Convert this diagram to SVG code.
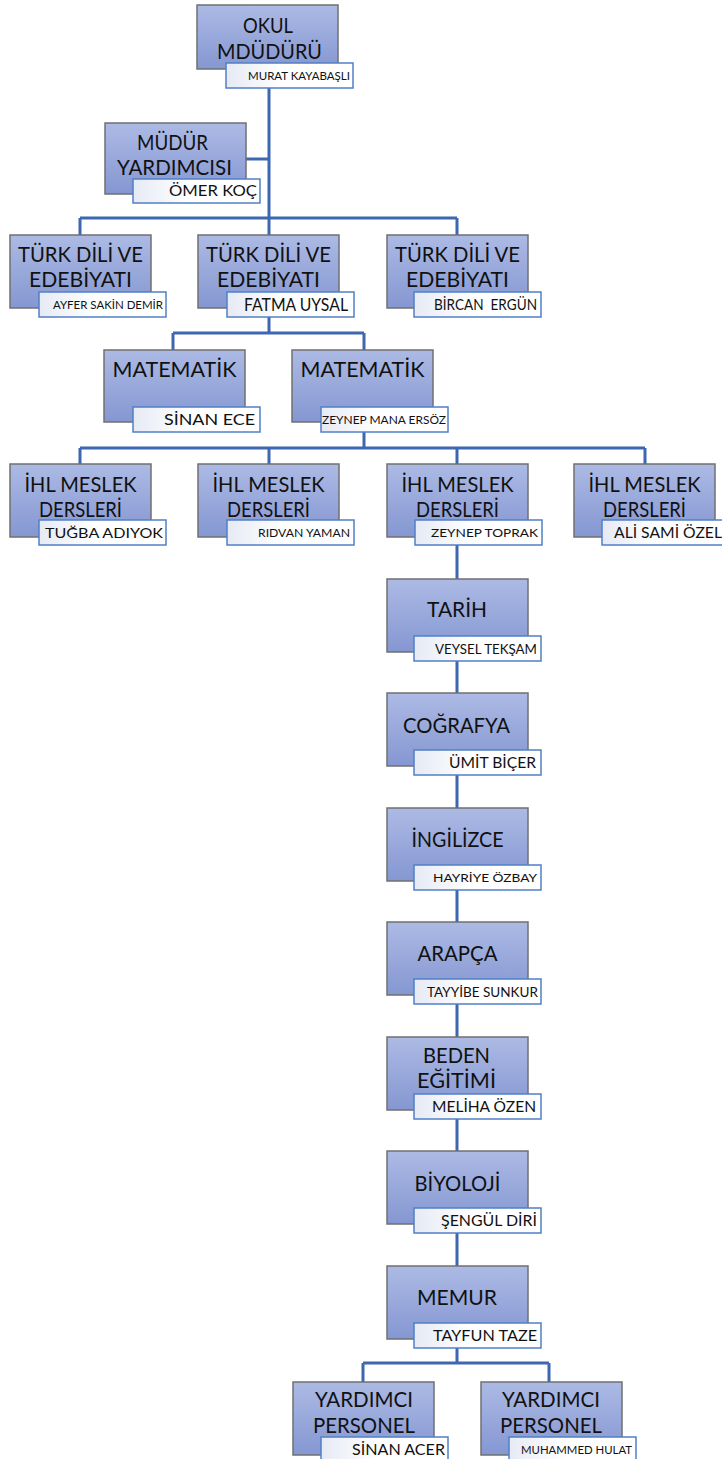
<svg xmlns="http://www.w3.org/2000/svg" width="722" height="1459" viewBox="0 0 722 1459">
<defs>
<linearGradient id="bg" x1="0" y1="0" x2="0" y2="1"><stop offset="0" stop-color="#acbae4"/><stop offset="1" stop-color="#8597d2"/></linearGradient>
<linearGradient id="lg" x1="0" y1="0" x2="1" y2="0"><stop offset="0" stop-color="#e6eaf4"/><stop offset="0.45" stop-color="#ffffff"/></linearGradient>
<style>
.b{fill:url(#bg);stroke:#707070;stroke-width:1.5}
.l{fill:url(#lg);stroke:#5080c6;stroke-width:1.5}
.t{font-family:Lato,'Liberation Sans',sans-serif;font-size:22px;fill:#111;text-anchor:middle}
.n{font-family:Lato,'Liberation Sans',sans-serif;fill:#111;text-anchor:end;white-space:pre}
.c{fill:none;stroke:#3e67b1;stroke-width:3}
</style>
</defs>
<rect width="722" height="1459" fill="#ffffff"/>
<g id="connectors" class="c">
<path d="M269,88 V218 M245,159 H269 M80,218 H457 M80,218 V235 M269,218 V235 M457,218 V235"/>
<path d="M269,317 V333 M173,333 H364 M173,333 V350 M364,333 V350"/>
<path d="M364,432 V448 M80,448 H645 M80,448 V464 M269,448 V464 M457,448 V464 M645,448 V464"/>
<path d="M457,545 V579 M457,661 V693 M457,775 V808 M457,890 V922 M457,1004 V1037 M457,1119 V1151 M457,1233 V1266"/>
<path d="M457,1348 V1363 M363,1363 H549 M363,1363 V1382 M549,1363 V1382"/>
</g>
<g id="okul-muduru">
<rect class="b" x="197" y="5" width="141" height="64"/>
<text class="t" x="268" y="33" textLength="50" lengthAdjust="spacingAndGlyphs">OKUL</text>
<text class="t" x="269.5" y="59" textLength="105" lengthAdjust="spacingAndGlyphs">MDÜDÜRÜ</text>
<rect class="l" x="226" y="63" width="127" height="25"/>
<text class="n" x="350" y="80" font-size="11.5" textLength="102" lengthAdjust="spacingAndGlyphs">MURAT KAYABAŞLI</text>
</g>
<g id="mudur-yardimcisi">
<rect class="b" x="105" y="123" width="141" height="71"/>
<text class="t" x="172.5" y="150" textLength="71" lengthAdjust="spacingAndGlyphs">MÜDÜR</text>
<text class="t" x="174.5" y="175" textLength="115" lengthAdjust="spacingAndGlyphs">YARDIMCISI</text>
<rect class="l" x="133" y="179" width="127" height="24"/>
<text class="n" x="257" y="196" font-size="15" textLength="88" lengthAdjust="spacingAndGlyphs">ÖMER KOÇ</text>
</g>
<g id="tde-1">
<rect class="b" x="10" y="235" width="141" height="73"/>
<text class="t" x="80.5" y="262" textLength="125" lengthAdjust="spacingAndGlyphs">TÜRK DİLİ VE</text>
<text class="t" x="80.5" y="287" textLength="103" lengthAdjust="spacingAndGlyphs">EDEBİYATI</text>
<rect class="l" x="39" y="292" width="127" height="25"/>
<text class="n" x="163" y="309" font-size="12" textLength="110" lengthAdjust="spacingAndGlyphs">AYFER SAKİN DEMİR</text>
</g>
<g id="tde-2">
<rect class="b" x="198" y="235" width="141" height="73"/>
<text class="t" x="268.5" y="262" textLength="125" lengthAdjust="spacingAndGlyphs">TÜRK DİLİ VE</text>
<text class="t" x="268.5" y="287" textLength="103" lengthAdjust="spacingAndGlyphs">EDEBİYATI</text>
<rect class="l" x="227" y="292" width="127" height="25"/>
<text class="n" x="348" y="311" font-size="17" textLength="104" lengthAdjust="spacingAndGlyphs">FATMA UYSAL</text>
</g>
<g id="tde-3">
<rect class="b" x="387" y="235" width="141" height="73"/>
<text class="t" x="457.5" y="262" textLength="125" lengthAdjust="spacingAndGlyphs">TÜRK DİLİ VE</text>
<text class="t" x="457.5" y="287" textLength="103" lengthAdjust="spacingAndGlyphs">EDEBİYATI</text>
<rect class="l" x="414" y="292" width="127" height="25"/>
<text class="n" x="537" y="310" font-size="15" textLength="103" lengthAdjust="spacingAndGlyphs" xml:space="preserve">BİRCAN  ERGÜN</text>
</g>
<g id="matematik-1">
<rect class="b" x="104" y="350" width="141" height="72"/>
<text class="t" x="174.5" y="377" textLength="124" lengthAdjust="spacingAndGlyphs">MATEMATİK</text>
<rect class="l" x="133" y="407" width="127" height="25"/>
<text class="n" x="255" y="425" font-size="15.5" textLength="91" lengthAdjust="spacingAndGlyphs">SİNAN ECE</text>
</g>
<g id="matematik-2">
<rect class="b" x="292" y="350" width="141" height="72"/>
<text class="t" x="362.5" y="377" textLength="124" lengthAdjust="spacingAndGlyphs">MATEMATİK</text>
<rect class="l" x="321" y="407" width="127" height="25"/>
<text class="n" x="446" y="424" font-size="10.5" textLength="124" lengthAdjust="spacingAndGlyphs">ZEYNEP MANA ERSÖZ</text>
</g>
<g id="ihl-1">
<rect class="b" x="10" y="464" width="141" height="73"/>
<text class="t" x="80.5" y="492" textLength="112" lengthAdjust="spacingAndGlyphs">İHL MESLEK</text>
<text class="t" x="80.5" y="517" textLength="83" lengthAdjust="spacingAndGlyphs">DERSLERİ</text>
<rect class="l" x="39" y="520" width="127" height="25"/>
<text class="n" x="163" y="538" font-size="14" textLength="118" lengthAdjust="spacingAndGlyphs">TUĞBA ADIYOK</text>
</g>
<g id="ihl-2">
<rect class="b" x="198" y="464" width="141" height="73"/>
<text class="t" x="268.5" y="492" textLength="112" lengthAdjust="spacingAndGlyphs">İHL MESLEK</text>
<text class="t" x="268.5" y="517" textLength="83" lengthAdjust="spacingAndGlyphs">DERSLERİ</text>
<rect class="l" x="227" y="520" width="127" height="25"/>
<text class="n" x="350" y="537" font-size="11.5" textLength="92" lengthAdjust="spacingAndGlyphs">RIDVAN YAMAN</text>
</g>
<g id="ihl-3">
<rect class="b" x="387" y="464" width="141" height="73"/>
<text class="t" x="457.5" y="492" textLength="112" lengthAdjust="spacingAndGlyphs">İHL MESLEK</text>
<text class="t" x="457.5" y="517" textLength="83" lengthAdjust="spacingAndGlyphs">DERSLERİ</text>
<rect class="l" x="415" y="520" width="127" height="25"/>
<text class="n" x="538" y="537" font-size="12" textLength="107" lengthAdjust="spacingAndGlyphs">ZEYNEP TOPRAK</text>
</g>
<g id="ihl-4">
<rect class="b" x="574" y="464" width="141" height="73"/>
<text class="t" x="644.5" y="492" textLength="112" lengthAdjust="spacingAndGlyphs">İHL MESLEK</text>
<text class="t" x="644.5" y="517" textLength="83" lengthAdjust="spacingAndGlyphs">DERSLERİ</text>
<rect class="l" x="602" y="520" width="127" height="25"/>
<text class="n" x="722" y="538" font-size="15" textLength="108" lengthAdjust="spacingAndGlyphs">ALİ SAMİ ÖZEL</text>
</g>
<g id="tarih">
<rect class="b" x="387" y="579" width="141" height="73"/>
<text class="t" x="457" y="617" textLength="60" lengthAdjust="spacingAndGlyphs">TARİH</text>
<rect class="l" x="414" y="636" width="127" height="25"/>
<text class="n" x="537" y="654" font-size="13.5" textLength="102" lengthAdjust="spacingAndGlyphs">VEYSEL TEKŞAM</text>
</g>
<g id="cografya">
<rect class="b" x="387" y="693" width="141" height="73"/>
<text class="t" x="456.5" y="733" textLength="107" lengthAdjust="spacingAndGlyphs">COĞRAFYA</text>
<rect class="l" x="414" y="750" width="127" height="25"/>
<text class="n" x="536" y="768" font-size="15" textLength="87" lengthAdjust="spacingAndGlyphs">ÜMİT BİÇER</text>
</g>
<g id="ingilizce">
<rect class="b" x="387" y="808" width="141" height="73"/>
<text class="t" x="457.5" y="847" textLength="92" lengthAdjust="spacingAndGlyphs">İNGİLİZCE</text>
<rect class="l" x="414" y="865" width="127" height="25"/>
<text class="n" x="537" y="882" font-size="12" textLength="104" lengthAdjust="spacingAndGlyphs">HAYRİYE ÖZBAY</text>
</g>
<g id="arapca">
<rect class="b" x="387" y="922" width="141" height="73"/>
<text class="t" x="457.5" y="961" textLength="80" lengthAdjust="spacingAndGlyphs">ARAPÇA</text>
<rect class="l" x="414" y="979" width="127" height="25"/>
<text class="n" x="538" y="997" font-size="13" textLength="111" lengthAdjust="spacingAndGlyphs">TAYYİBE SUNKUR</text>
</g>
<g id="beden-egitimi">
<rect class="b" x="387" y="1037" width="141" height="73"/>
<text class="t" x="456.5" y="1063" textLength="67" lengthAdjust="spacingAndGlyphs">BEDEN</text>
<text class="t" x="456.5" y="1088" textLength="79" lengthAdjust="spacingAndGlyphs">EĞİTİMİ</text>
<rect class="l" x="414" y="1094" width="127" height="25"/>
<text class="n" x="536" y="1112" font-size="15" textLength="104" lengthAdjust="spacingAndGlyphs">MELİHA ÖZEN</text>
</g>
<g id="biyoloji">
<rect class="b" x="387" y="1151" width="141" height="73"/>
<text class="t" x="457.5" y="1191" textLength="86" lengthAdjust="spacingAndGlyphs">BİYOLOJİ</text>
<rect class="l" x="414" y="1208" width="127" height="25"/>
<text class="n" x="537" y="1226" font-size="15" textLength="96" lengthAdjust="spacingAndGlyphs">ŞENGÜL DİRİ</text>
</g>
<g id="memur">
<rect class="b" x="387" y="1266" width="141" height="73"/>
<text class="t" x="457" y="1305" textLength="80" lengthAdjust="spacingAndGlyphs">MEMUR</text>
<rect class="l" x="414" y="1323" width="127" height="25"/>
<text class="n" x="537" y="1341" font-size="15" textLength="104" lengthAdjust="spacingAndGlyphs">TAYFUN TAZE</text>
</g>
<g id="yardimci-personel-1">
<rect class="b" x="293" y="1382" width="141" height="73"/>
<text class="t" x="364" y="1407" textLength="98" lengthAdjust="spacingAndGlyphs">YARDIMCI</text>
<text class="t" x="364" y="1433" textLength="102" lengthAdjust="spacingAndGlyphs">PERSONEL</text>
<rect class="l" x="321" y="1437" width="127" height="25"/>
<text class="n" x="445" y="1455" font-size="16" textLength="93" lengthAdjust="spacingAndGlyphs">SİNAN ACER</text>
</g>
<g id="yardimci-personel-2">
<rect class="b" x="481" y="1382" width="141" height="73"/>
<text class="t" x="551" y="1407" textLength="98" lengthAdjust="spacingAndGlyphs">YARDIMCI</text>
<text class="t" x="551" y="1433" textLength="102" lengthAdjust="spacingAndGlyphs">PERSONEL</text>
<rect class="l" x="509" y="1437" width="127" height="25"/>
<text class="n" x="632" y="1454" font-size="12" textLength="111" lengthAdjust="spacingAndGlyphs">MUHAMMED HULAT</text>
</g>
</svg>
